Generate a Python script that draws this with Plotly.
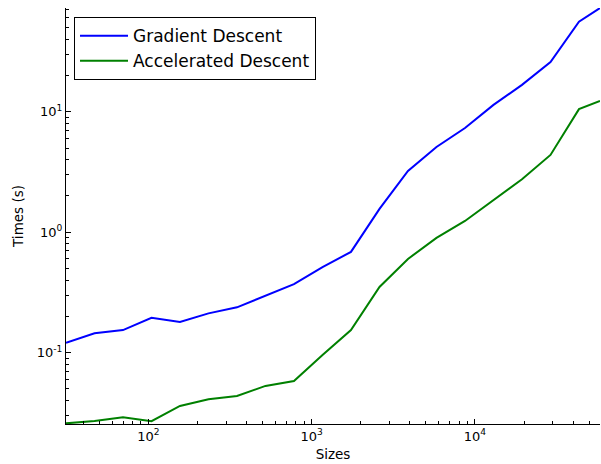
import plotly.graph_objects as go
import math

sizes = [31.3, 46.8, 69.9, 104.5, 156.1, 233.4, 348.8, 521.3, 779, 1165,
         1740, 2602, 3888, 5810, 8686, 12980, 19400, 29000, 43330, 58290]
gradient_times = [0.121, 0.145, 0.154, 0.195, 0.180, 0.212, 0.238, 0.295, 0.371, 0.514,
                  0.686, 1.56, 3.22, 5.10, 7.33, 11.4, 16.7, 25.8, 55.9, 72.6]
accelerated_times = [0.0259, 0.0271, 0.0291, 0.0270, 0.0361, 0.0411, 0.0437, 0.0530, 0.0582, 0.0957,
                     0.154, 0.351, 0.600, 0.896, 1.24, 1.85, 2.75, 4.38, 10.5, 12.3]

x_tickvals = [100, 1000, 10000]
x_ticktext = ["10<sup>2</sup>", "10<sup>3</sup>", "10<sup>4</sup>"]
y_tickvals = [0.1, 1, 10]
y_ticktext = ["10<sup>-1</sup>", "10<sup>0</sup>", "10<sup>1</sup>"]

x_minor = [m * 10 ** d for d in range(1, 5) for m in range(2, 10)]
y_minor = [m * 10.0 ** d for d in range(-2, 2) for m in range(2, 10)]

font_family = "DejaVu Sans"
x_range = [math.log10(sizes[0]), math.log10(sizes[-1])]
y_range = [-1.592, 1.861]

fig = go.Figure()
fig.add_trace(go.Scatter(x=sizes, y=gradient_times, mode="lines", name="Gradient Descent",
                         line=dict(color="#0000ff", width=2)))
fig.add_trace(go.Scatter(x=sizes, y=accelerated_times, mode="lines", name="Accelerated Descent",
                         line=dict(color="#008000", width=2)))

axis_common = dict(
    showgrid=False, zeroline=False, showline=True, linecolor="black", linewidth=1,
    ticks="inside", ticklen=5, tickcolor="black", tickwidth=1,
    tickfont=dict(family=font_family, size=13, color="black"),
)
x_minor_d = dict(tickvals=x_minor, ticks="inside", ticklen=3, tickcolor="black", tickwidth=1, showgrid=False)
y_minor_d = dict(tickvals=y_minor, ticks="inside", ticklen=3, tickcolor="black", tickwidth=1, showgrid=False)

fig.update_layout(
    xaxis=dict(type="log", range=x_range, tickvals=x_tickvals, ticktext=x_ticktext, minor=x_minor_d,
               title=dict(text="Sizes", font=dict(family=font_family, size=13.5, color="black"), standoff=6),
               **axis_common),
    yaxis=dict(type="log", range=y_range, tickvals=y_tickvals, ticktext=y_ticktext, minor=y_minor_d,
               title=dict(text="Times (s)", font=dict(family=font_family, size=13.5, color="black"), standoff=10),
               **axis_common),
    xaxis2=dict(type="log", range=x_range, overlaying="x", side="top", anchor="y",
                tickvals=x_tickvals, showticklabels=False, minor=x_minor_d, **axis_common),
    yaxis2=dict(type="log", range=y_range, overlaying="y", side="right", anchor="x",
                tickvals=y_tickvals, showticklabels=False, minor=y_minor_d, **axis_common),
)

fig.update_layout(
    width=601, height=464,
    margin=dict(l=66, r=1, t=8, b=40),
    paper_bgcolor="white", plot_bgcolor="white",
    font=dict(family=font_family, color="black"),
    legend=dict(x=0.015, y=0.978, xanchor="left", yanchor="top",
                bgcolor="white", bordercolor="black", borderwidth=1, itemwidth=48,
                font=dict(family=font_family, size=17, color="black")),
    showlegend=True,
)

fig.write_html("out.html")
